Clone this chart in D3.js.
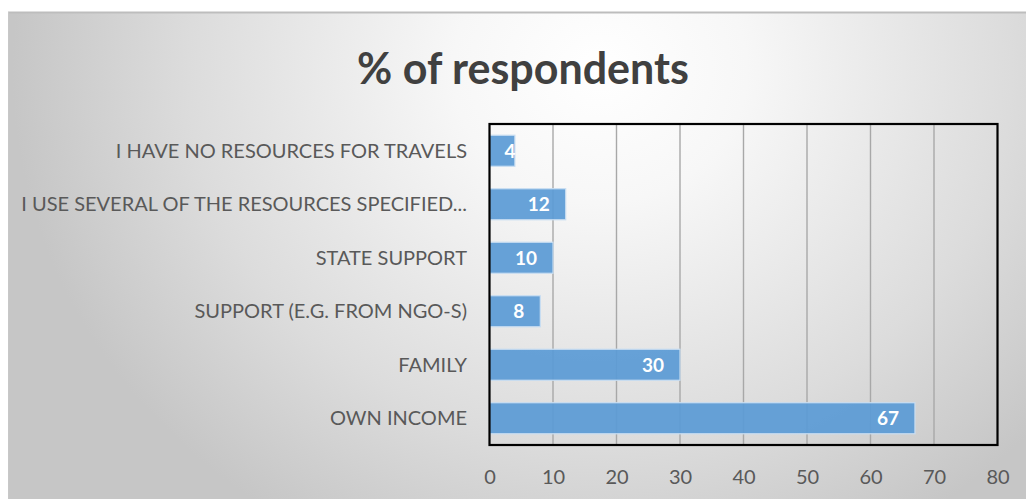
<!DOCTYPE html>
<html>
<head>
<meta charset="utf-8">
<script src="https://cdn.jsdelivr.net/npm/d3@7"></script>
<style>
  html, body { margin: 0; padding: 0; background: #ffffff; }
  svg { display: block; }
</style>
</head>
<body>
<div id="chart"></div>
<script>
// Survey: how respondents finance their travels
const categories = [
  "I HAVE NO RESOURCES FOR TRAVELS",
  "I USE SEVERAL OF THE RESOURCES SPECIFIED...",
  "STATE SUPPORT",
  "SUPPORT (E.G. FROM NGO-S)",
  "FAMILY",
  "OWN INCOME"
];
const values = [4, 12, 10, 8, 30, 67];
const tickValues = [0, 10, 20, 30, 40, 50, 60, 70, 80];
const chartTitle = "% of respondents";

const W = 1026, H = 499;
const frame = { x: 8, y: 12 };
const plot = { left: 489.5, right: 997.5, top: 124, bottom: 445 };

const svg = d3.select("#chart").append("svg")
  .attr("width", W).attr("height", H);

const defs = svg.append("defs");
const bg = defs.append("radialGradient")
  .attr("id", "bgGrad")
  .attr("gradientUnits", "userSpaceOnUse")
  .attr("cx", 600).attr("cy", 70).attr("r", 560)
  .attr("gradientTransform", "translate(600,70) scale(1.05,0.95) translate(-600,-70)");
bg.append("stop").attr("offset", "0").attr("stop-color", "#ffffff");
bg.append("stop").attr("offset", "0.25").attr("stop-color", "#f7f7f7");
bg.append("stop").attr("offset", "0.7").attr("stop-color", "#dcdcdc");
bg.append("stop").attr("offset", "1").attr("stop-color", "#c6c6c6");

// chart background panel
svg.append("rect")
  .attr("x", frame.x).attr("y", frame.y)
  .attr("width", W - frame.x).attr("height", H - frame.y)
  .attr("fill", "url(#bgGrad)");
svg.append("line")
  .attr("x1", frame.x).attr("x2", W)
  .attr("y1", frame.y + 0.5).attr("y2", frame.y + 0.5)
  .attr("stroke", "#bdbdbd").attr("stroke-width", 2);
svg.append("line")
  .attr("x1", frame.x + 0.5).attr("x2", frame.x + 0.5)
  .attr("y1", frame.y).attr("y2", H)
  .attr("stroke", "#c8c8c8").attr("stroke-width", 1);

// title
svg.append("text")
  .attr("x", 523).attr("y", 84)
  .attr("text-anchor", "middle")
  .attr("font-family", "Lato, 'Open Sans', sans-serif")
  .attr("font-weight", "bold")
  .attr("font-size", 43)
  .attr("fill", "#404040")
  .text(chartTitle);

const x = d3.scaleLinear().domain([0, 80]).range([plot.left, plot.right]);
const y = d3.scaleBand().domain(categories)
  .range([plot.top, plot.bottom]).paddingInner(0.42).paddingOuter(0.21);

// vertical gridlines
svg.append("g")
  .selectAll("line")
  .data(tickValues.slice(1, -1))
  .join("line")
  .attr("x1", d => x(d)).attr("x2", d => x(d))
  .attr("y1", plot.top).attr("y2", plot.bottom)
  .attr("stroke", "#a8a8a8").attr("stroke-width", 1.4);

// bars
svg.append("g")
  .selectAll("rect")
  .data(values)
  .join("rect")
  .attr("x", x(0))
  .attr("y", (d, i) => y(categories[i]))
  .attr("width", d => x(d) - x(0))
  .attr("height", y.bandwidth())
  .attr("fill", "#5b9bd5")
  .attr("fill-opacity", 0.93)
  .attr("stroke", "#c9def2")
  .attr("stroke-width", 1.2);

// value labels, inside the bar end
svg.append("g")
  .selectAll("text")
  .data(values)
  .join("text")
  .attr("x", d => Math.max(x(d) - 16, x(0) + 26))
  .attr("y", (d, i) => y(categories[i]) + y.bandwidth() / 2)
  .attr("dy", "0.36em")
  .attr("text-anchor", "end")
  .attr("font-family", "Lato, 'Open Sans', sans-serif")
  .attr("font-weight", "bold")
  .attr("font-size", 19)
  .attr("fill", "#ffffff")
  .text(d => d);

// plot border
svg.append("rect")
  .attr("x", plot.left).attr("y", plot.top)
  .attr("width", plot.right - plot.left)
  .attr("height", plot.bottom - plot.top)
  .attr("fill", "none")
  .attr("stroke", "#000000").attr("stroke-width", 2.2);

// category axis labels
svg.append("g")
  .selectAll("text")
  .data(categories)
  .join("text")
  .attr("x", 467)
  .attr("y", d => y(d) + y.bandwidth() / 2)
  .attr("dy", "0.36em")
  .attr("text-anchor", "end")
  .attr("font-family", "Lato, 'Open Sans', sans-serif")
  .attr("font-size", 20)
  .attr("fill", "#595959")
  .text(d => d);

// value axis
const xAxis = d3.axisBottom(x).tickValues(tickValues).tickSize(0).tickPadding(0);
const ax = svg.append("g")
  .attr("transform", `translate(0,${plot.bottom})`)
  .call(xAxis);
ax.select(".domain").remove();
ax.selectAll("text")
  .attr("y", 39)
  .attr("dy", "0")
  .attr("font-family", "Lato, 'Open Sans', sans-serif")
  .attr("font-size", 20)
  .attr("fill", "#595959");
</script>
</body>
</html>
